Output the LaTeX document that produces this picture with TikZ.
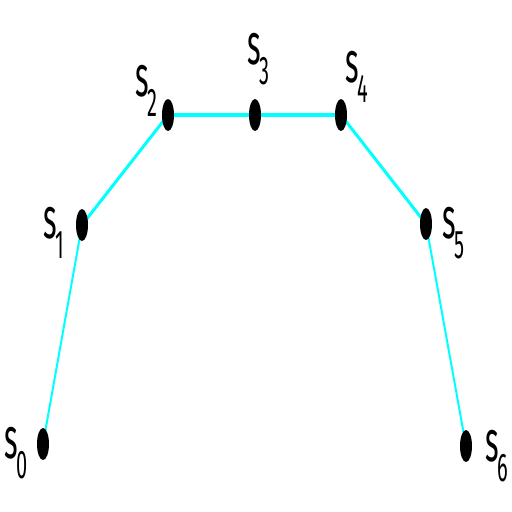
\documentclass[tikz,border=0pt]{standalone}
\usepackage{fontspec}
\setmainfont{Fira Sans}
\usetikzlibrary{shapes.geometric,backgrounds}
\definecolor{aqua}{RGB}{0,255,255}
\newcommand{\slab}[1]{\scalebox{0.5}[1]{\fontsize{58}{58}\selectfont s\hspace{-2pt}\raisebox{-20pt}{\fontsize{40}{40}\selectfont #1}}}
\tikzset{
  pt/.style={ellipse,fill=black,draw=none,minimum width=12pt,minimum height=32pt,inner sep=0pt},
  lbl/.style={anchor=base west,inner sep=0pt},
  edge/.style={draw=aqua,line cap=round}
}
\begin{document}
\begin{tikzpicture}[x=1pt,y=-1pt]
\useasboundingbox (0,0) rectangle (512,512);
\node[pt] (s0) at (43,444) {};
\node[pt] (s1) at (82,225) {};
\node[pt] (s2) at (168,115) {};
\node[pt] (s3) at (255,115) {};
\node[pt] (s4) at (341,115) {};
\node[pt] (s5) at (426,224) {};
\node[pt] (s6) at (466,446) {};
\begin{scope}[on background layer]
\draw[edge,line width=2pt] (s0.center) -- (s1.center);
\draw[edge,line width=3pt] (s1.center) -- (s2.center);
\draw[edge,line width=4pt] (s2.center) -- (s3.center) -- (s4.center);
\draw[edge,line width=3pt] (s4.center) -- (s5.center);
\draw[edge,line width=2pt] (s5.center) -- (s6.center);
\end{scope}
\node[lbl] (l0) at (4,458) {\slab{0}};
\node[lbl] (l1) at (43,238) {\slab{1}};
\node[lbl] (l2) at (135,96) {\slab{2}};
\node[lbl] (l3) at (247,64) {\slab{3}};
\node[lbl] (l4) at (345,82) {\slab{4}};
\node[lbl] (l5) at (442,238) {\slab{5}};
\node[lbl] (l6) at (485,461) {\slab{6}};
\end{tikzpicture}
\end{document}
